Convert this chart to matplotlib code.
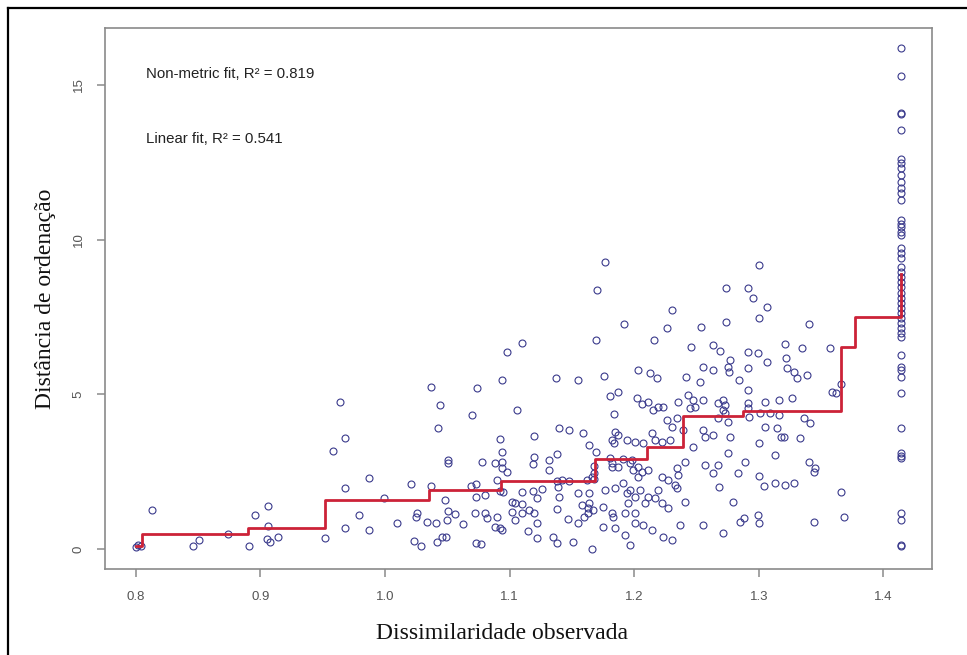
import matplotlib
matplotlib.use("Agg")
import matplotlib.pyplot as plt
from matplotlib.lines import Line2D

# ---------------- data ----------------
obs_dissim = [
    0.800, 0.804, 0.802, 0.813, 0.846, 0.851, 0.874, 0.891, 0.896, 0.906, 0.906, 0.905, 0.908, 0.914,
    0.952, 0.958, 0.964, 0.968, 0.968, 0.968, 0.979, 0.987, 0.987, 0.9995,
    1.010, 1.021, 1.023, 1.025, 1.026, 1.029, 1.034, 1.037, 1.037, 1.041, 1.044, 1.043, 1.042, 1.046,
    1.049, 1.048, 1.051, 1.051, 1.051, 1.050, 1.056, 1.063, 1.069, 1.070, 1.072, 1.073, 1.073, 1.074, 1.073,
    1.094, 1.106, 1.092, 1.094, 1.078, 1.088, 1.094, 1.098, 1.094, 1.090, 1.092, 1.095, 1.080, 1.104,
    1.080, 1.090, 1.102, 1.082, 1.088, 1.092, 1.094, 1.104, 1.077,
    1.170, 1.169, 1.1097, 1.098, 1.137, 1.155, 1.120, 1.140, 1.148, 1.159, 1.164, 1.169, 1.120, 1.119,
    1.132, 1.138, 1.132, 1.110, 1.119, 1.122, 1.126, 1.138, 1.142, 1.148, 1.162, 1.166, 1.168, 1.139,
    1.140, 1.155, 1.164, 1.164, 1.167, 1.163, 1.102, 1.110, 1.116, 1.110, 1.122, 1.120, 1.138, 1.147,
    1.155, 1.158, 1.163, 1.160, 1.115, 1.122, 1.135, 1.138, 1.151, 1.166,
    1.177, 1.2304, 1.226, 1.192, 1.216, 1.176, 1.203, 1.213, 1.218, 1.181, 1.187, 1.184, 1.202, 1.206,
    1.211, 1.215, 1.219, 1.223, 1.226, 1.230, 1.185, 1.187, 1.182, 1.184, 1.194, 1.201, 1.207, 1.214,
    1.217, 1.222, 1.229, 1.168, 1.168, 1.181, 1.182, 1.182, 1.187, 1.191, 1.197, 1.198, 1.199, 1.203,
    1.206, 1.203, 1.211, 1.222, 1.227, 1.1765, 1.185, 1.191, 1.194, 1.197, 1.201, 1.205, 1.209, 1.195,
    1.193, 1.201, 1.201, 1.207, 1.175, 1.182, 1.183, 1.211, 1.217, 1.222, 1.227, 1.219, 1.175, 1.185,
    1.193, 1.197, 1.214, 1.223, 1.230,
    1.300, 1.274, 1.291, 1.295, 1.307, 1.300, 1.274, 1.254, 1.340, 1.246, 1.263, 1.269, 1.277, 1.276,
    1.275, 1.291, 1.299, 1.307, 1.321, 1.335, 1.322, 1.323, 1.328, 1.331, 1.339, 1.3575, 1.255, 1.263,
    1.291, 1.242, 1.253, 1.284, 1.291, 1.359, 1.362, 1.366, 1.243, 1.235, 1.247, 1.255, 1.245, 1.249,
    1.267, 1.271, 1.273, 1.271, 1.291, 1.291, 1.305, 1.316, 1.327, 1.301, 1.309, 1.316, 1.267, 1.275,
    1.273, 1.292, 1.234, 1.305, 1.315, 1.318, 1.320, 1.255, 1.257, 1.263, 1.336, 1.341, 1.239, 1.277,
    1.333, 1.247, 1.275, 1.300, 1.313, 1.289, 1.241, 1.234, 1.235, 1.233, 1.234, 1.257, 1.267, 1.263,
    1.283, 1.300, 1.304, 1.313, 1.321, 1.328, 1.268, 1.340, 1.345, 1.344, 1.241, 1.279, 1.366, 1.285,
    1.288, 1.299, 1.300, 1.255, 1.271, 1.237, 1.344, 1.368,
]
ord_dist = [
    0.07, 0.08, 0.12, 1.26, 0.10, 0.29, 0.48, 0.10, 1.10, 1.39, 0.74, 0.32, 0.23, 0.39,
    0.36, 3.17, 4.75, 3.59, 1.97, 0.68, 1.10, 2.30, 0.61, 1.65,
    0.84, 2.10, 0.26, 1.03, 1.16, 0.10, 0.87, 5.24, 2.04, 0.84, 4.66, 3.91, 0.23, 0.39,
    0.39, 1.58, 2.88, 2.78, 1.23, 0.94, 1.13, 0.81, 2.04, 4.33, 1.16, 0.19, 1.68, 5.21, 2.10,
    5.46, 4.49, 3.56, 3.14, 2.81, 2.78, 2.81, 2.49, 2.62, 2.23, 1.88, 1.84, 1.75, 1.49,
    1.16, 1.03, 1.20, 1.00, 0.71, 0.68, 0.61, 0.94, 0.16,
    8.37, 6.76, 6.66, 6.37, 5.53, 5.46, 3.65, 3.91, 3.85, 3.75, 3.36, 3.14, 2.97, 2.75,
    2.88, 3.07, 2.55, 1.84, 1.88, 1.65, 1.94, 2.20, 2.23, 2.20, 2.23, 2.33, 2.26, 2.00,
    1.68, 1.81, 1.81, 1.49, 1.26, 1.16, 1.52, 1.46, 1.26, 1.16, 0.84, 1.16, 1.29, 0.97,
    0.84, 1.42, 1.33, 1.03, 0.58, 0.36, 0.39, 0.19, 0.23, 0.00,
    9.28, 7.73, 7.14, 7.27, 6.76, 5.59, 5.79, 5.69, 5.53, 4.95, 5.08, 4.36, 4.88, 4.69,
    4.75, 4.49, 4.59, 4.59, 4.17, 3.94, 3.78, 3.69, 3.52, 3.43, 3.52, 3.46, 3.43, 3.75,
    3.52, 3.46, 3.52, 2.68, 2.46, 2.94, 2.78, 2.65, 2.65, 2.91, 2.78, 2.88, 2.55, 2.65,
    2.49, 2.33, 2.55, 2.33, 2.23, 1.91, 1.97, 2.13, 1.81, 1.91, 1.68, 1.91, 1.49, 1.49,
    1.16, 1.16, 0.84, 0.78, 1.36, 1.16, 1.03, 1.68, 1.65, 1.49, 1.33, 1.91, 0.71, 0.68,
    0.45, 0.13, 0.61, 0.39, 0.29,
    9.18, 8.44, 8.44, 8.12, 7.82, 7.47, 7.34, 7.18, 7.27, 6.53, 6.60, 6.40, 6.11, 5.72,
    5.88, 6.37, 6.34, 6.05, 6.63, 6.50, 6.18, 5.85, 5.72, 5.53, 5.63, 6.50, 5.88, 5.79,
    5.85, 5.56, 5.40, 5.46, 5.14, 5.08, 5.04, 5.33, 4.98, 4.75, 4.82, 4.82, 4.56, 4.59,
    4.72, 4.82, 4.66, 4.49, 4.72, 4.56, 4.75, 4.82, 4.88, 4.39, 4.39, 4.33, 4.23, 4.10,
    4.39, 4.27, 4.23, 3.94, 3.91, 3.62, 3.62, 3.85, 3.62, 3.69, 4.23, 4.07, 3.85, 3.62,
    3.59, 3.30, 3.10, 3.43, 3.04, 2.81, 2.81, 2.62, 2.39, 2.07, 1.97, 2.72, 2.72, 2.46,
    2.46, 2.36, 2.04, 2.13, 2.07, 2.13, 2.00, 2.81, 2.62, 2.49, 1.52, 1.52, 1.84, 0.87,
    1.00, 1.10, 0.84, 0.78, 0.52, 0.78, 0.87, 1.03,
]
max_dissim = 1.4142
column_dist = [
    16.20, 15.29, 14.09, 14.05, 13.55, 12.61, 12.48, 12.32, 12.09, 11.87, 11.67, 11.51, 11.28,
    10.64, 10.51, 10.41, 10.25, 10.15, 9.73, 9.57, 9.41, 9.12, 8.96, 8.80, 8.63, 8.47, 8.28,
    8.12, 7.95, 7.79, 7.63, 7.47, 7.31, 7.14, 6.98, 6.85, 6.27, 5.88, 5.79, 5.56, 5.04, 3.91,
    3.10, 3.01, 2.94, 1.16, 0.94, 0.13, 0.10,
]
step_x = [0.800, 0.8048, 0.890, 0.952, 1.0357, 1.0928, 1.1685, 1.210, 1.239, 1.2875, 1.366, 1.3776, 1.4142]
step_y = [0.10, 0.485, 0.68, 1.57, 1.91, 2.18, 2.91, 3.30, 4.30, 4.45, 6.53, 7.50, 8.90]

x_ticks = [0.8, 0.9, 1.0, 1.1, 1.2, 1.3, 1.4]
x_tick_labels = ["0.8", "0.9", "1.0", "1.1", "1.2", "1.3", "1.4"]
y_ticks = [0, 5, 10, 15]
y_tick_labels = ["0", "5", "10", "15"]
fit_labels = ["Non-metric fit, R² = 0.819", "Linear fit, R² = 0.541"]

# ---------------- figure ----------------
W, H = 967, 655
fig = plt.figure(figsize=(W / 100, H / 100), dpi=100)
fig.patch.set_facecolor("white")

ax = fig.add_axes([105 / W, 1 - 569 / H, (932 - 105) / W, (569 - 28) / H])

pt_color = "#3a3a8c"
ax.plot(obs_dissim, ord_dist, linestyle="none", marker="o", markersize=5.0,
        markerfacecolor="none", markeredgecolor=pt_color, markeredgewidth=0.8)
ax.plot([max_dissim] * len(column_dist), column_dist, linestyle="none", marker="o", markersize=5.0,
        markerfacecolor="none", markeredgecolor=pt_color, markeredgewidth=0.8)
ax.plot(step_x, step_y, drawstyle="steps-post", color="#cc2238", linewidth=2.0, zorder=3)

ax.set_xlim(0.7754, 1.4390)
ax.set_ylim(-0.65, 16.84)

spine_c = "#8a8a8a"
for s in ax.spines.values():
    s.set_color(spine_c)
    s.set_linewidth(1.2)

ax.set_xticks(x_ticks)
ax.set_xticklabels(x_tick_labels)
ax.set_yticks(y_ticks)
ax.set_yticklabels(y_tick_labels, rotation=90, va="center")
ax.tick_params(axis="both", direction="out", length=5.5, width=1.1, color=spine_c,
               labelcolor="#555555", labelsize=9.5)
ax.tick_params(axis="x", pad=10)
ax.tick_params(axis="y", pad=9)
for lab in ax.get_xticklabels() + ax.get_yticklabels():
    lab.set_fontfamily(["Liberation Sans", "DejaVu Sans"])

ax.set_xlabel("Dissimilaridade observada", fontfamily=["Liberation Serif", "DejaVu Serif"],
              fontsize=17, color="#111111")
ax.set_ylabel("Distância de ordenação", fontfamily=["Liberation Serif", "DejaVu Serif"],
              fontsize=17, color="#111111")
ax.xaxis.set_label_coords(0.48, -0.1)
ax.yaxis.set_label_coords(-0.059, 0.5)

ax.text(0.049, 0.915, fit_labels[0], transform=ax.transAxes, fontsize=10.8,
        fontfamily=["Liberation Sans", "DejaVu Sans"], color="#222222", va="center", ha="left")
ax.text(0.049, 0.795, fit_labels[1], transform=ax.transAxes, fontsize=10.8,
        fontfamily=["Liberation Sans", "DejaVu Sans"], color="#222222", va="center", ha="left")

# outer frame (left and top edges visible)
fig.add_artist(Line2D([8 / W, 8 / W], [0, 1 - 8 / H], transform=fig.transFigure, color="black", linewidth=1.6))
fig.add_artist(Line2D([8 / W, 1], [1 - 8 / H, 1 - 8 / H], transform=fig.transFigure, color="black", linewidth=1.6))

fig.savefig("out.png", dpi=100, facecolor="white")
